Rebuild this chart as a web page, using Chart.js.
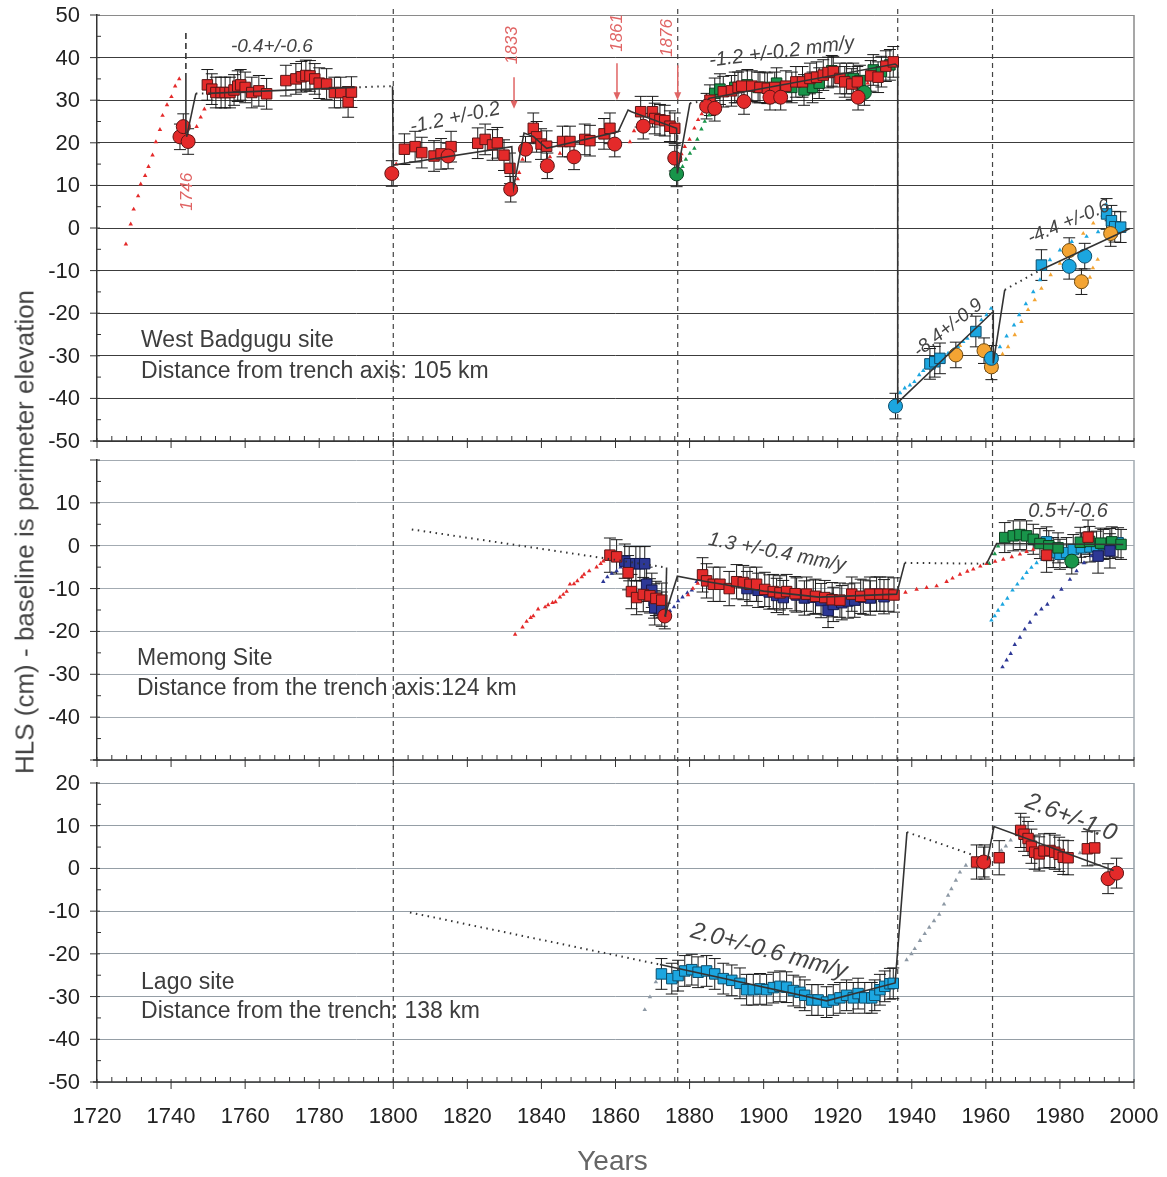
<!DOCTYPE html>
<html>
<head>
<meta charset="utf-8">
<script src="https://cdn.jsdelivr.net/npm/chart.js@4.4.1/dist/chart.umd.min.js"></script>
<style>
body{margin:0;background:#fff;}
#wrap{position:relative;width:1167px;height:1177px;font-family:"Liberation Sans",Arial,sans-serif;}
.panel{position:absolute;left:0;}
#ytitle{position:absolute;left:25px;top:532px;transform:translate(-50%,-50%) rotate(-90deg);white-space:nowrap;font-size:26px;color:#444;}
</style>
</head>
<body>
<div id="wrap">
  <canvas id="c1" class="panel" width="1167" height="451" style="top:0"></canvas>
  <canvas id="c2" class="panel" width="1167" height="320" style="top:451px"></canvas>
  <canvas id="c3" class="panel" width="1167" height="406" style="top:771px"></canvas>
  <div id="ytitle">HLS (cm) - baseline is perimeter elevation</div>
</div>
<script>
// ---- data: [year, HLS cm] ----
// West Badgugu
const wbRedSquares = [[1749.8,33.6],[1751.0,32.6],[1752.1,31.8],[1753.5,31.8],[1754.6,31.8],[1755.9,31.8],[1757.0,32.4],[1758.0,33.3],[1758.8,33.6],[1760.0,33.0],[1761.8,31.8],[1763.7,32.2],[1765.8,31.5],
  [1771.0,34.6],[1773.7,35.0],[1775.2,35.5],[1776.4,35.8],[1777.5,35.7],[1778.8,35.0],[1780.0,34.0],[1782.0,33.8],[1784.1,31.8],[1785.8,31.8],[1787.8,29.6],[1788.7,31.9],
  [1803.0,18.5],[1805.9,19.1],[1807.7,17.7],[1811.0,16.9],[1812.9,17.4],[1815.6,19.1],[1822.8,19.9],[1824.8,20.8],[1826.8,19.5],[1828.1,20.0],[1829.9,17.1],[1831.5,14.0],
  [1837.8,23.4],[1838.7,21.4],[1839.9,19.7],[1841.4,19.2],[1845.7,20.3],[1847.7,20.3],[1851.7,20.8],[1853.1,20.5],[1856.9,22.1],[1858.5,23.4],
  [1866.8,27.3],[1870.0,27.3],[1870.6,25.7],[1872.0,25.4],[1873.3,25.2],[1874.7,23.9],[1876.0,23.4],
  [1885.5,30.0],[1889.1,32.0],[1891.3,32.2],[1893.1,33.0],[1894.1,33.3],[1896.8,33.3],[1899.0,33.0],[1901.0,32.8],[1903.0,33.0],[1906.0,33.3],[1908.7,34.3],[1910.5,34.3],[1912.5,35.1],[1914.3,35.4],[1916.1,35.9],[1917.4,36.5],[1918.8,36.7],[1920.6,35.1],[1921.9,34.3],[1923.8,33.8],[1925.3,34.3],[1928.9,35.7],[1930.9,35.4],[1933.0,38.0],[1935.0,39.0]];
const wbGreenSquares = [[1886.8,31.6],[1888.2,32.6],[1892.2,33.0],[1895.6,33.6],[1898.5,33.0],[1900.3,33.0],[1903.5,34.0],[1907.6,33.0],[1910.9,32.4],[1913.2,33.0],[1915.0,34.0],[1918.4,36.9],[1922.4,35.1],[1924.2,35.1],[1926.0,34.6],[1929.6,37.1],[1931.8,36.7],[1934.1,38.3]];
const wbRedCircles = [[1742.4,21.4],[1743.3,23.8],[1744.6,20.3],[1799.6,12.8],[1814.8,16.9],[1831.7,9.1],[1835.7,18.5],[1841.6,14.6],[1848.8,16.7],[1859.8,19.7],[1867.5,23.9],[1876.0,16.4],[1884.6,28.6],[1886.8,28.1],[1894.7,29.7],[1901.7,30.7],[1904.6,30.7],[1925.5,30.7]];
const wbGreenCircles = [[1876.5,12.7],[1927.2,31.8]];
const wbCyanCircles = [[1935.6,-41.8],[1961.5,-30.6],[1982.5,-9.0],[1986.7,-6.6]];
const wbCyanSquares = [[1944.9,-31.9],[1946.2,-31.4],[1947.6,-30.6],[1957.3,-24.3],[1975.0,-8.7],[1992.6,3.3],[1993.9,1.7],[1994.8,0.3],[1996.4,0.2]];
const wbOrangeCircles = [[1951.9,-29.8],[1959.5,-28.8],[1961.5,-32.6],[1982.5,-5.3],[1985.8,-12.6],[1993.7,-1.3]];
const wbRedTri = [[1727.8,-3.8],[1729.1,0.9],[1729.9,4.4],[1731.1,7.5],[1731.8,10.3],[1733.0,12.3],[1733.9,14.4],[1735.0,17.1],[1735.9,20.2],[1737.0,23.1],[1737.7,26.4],[1738.9,28.9],[1740.1,30.8],[1741.1,33.3],[1742.2,35.0],
  [1745.8,21.1],[1746.9,23.8],[1748.0,26.0],[1749.0,27.9],[1800.8,15.0],[1833.6,11.5],[1834.0,13.0],[1834.9,16.1],[1842.3,16.7],[1845.0,17.5],[1863.9,20.2],[1865.0,22.8],
  [1877.8,17.4],[1878.7,19.1],[1880.0,20.8],[1881.3,23.4],[1882.3,25.4],[1883.3,26.8],[1927.3,33.2],[1928.1,34.0]];
const wbGreenTri = [[1878.1,14.4],[1879.0,16.1],[1880.1,17.5],[1881.3,18.7],[1882.1,20.8],[1883.2,23.2],[1884.1,25.0],[1885.3,26.5],[1928.4,32.4]];
const wbCyanTri = [[1936.8,-38.7],[1938.1,-37.6],[1939.5,-36.9],[1940.7,-36.1],[1942.0,-34.5],[1943.1,-33.5],[1949.8,-29.4],[1951.2,-28.6],[1952.5,-27.9],[1953.9,-26.7],[1955.0,-25.9],[1956.2,-24.7],[1958.8,-21.6],[1960.2,-20.4],[1961.4,-18.9],
  [1963.8,-27.9],[1965.6,-25.4],[1967.6,-22.8],[1969.0,-20.4],[1970.8,-17.8],[1972.8,-15.0],[1974.6,-12.2],[1977.3,-7.5],[1980.0,-5.2],[1983.2,-3.2],[1987.2,-2.0],[1990.3,-0.9],[1991.5,3.0],[1992.5,5.5]];
const wbOrangeTri = [[1950.3,-29.6],[1951.6,-28.8],[1953.0,-27.6],[1964.5,-29.6],[1966.0,-27.9],[1967.8,-25.1],[1969.6,-22.0],[1971.4,-19.2],[1973.2,-16.9],[1975.0,-14.2],[1977.5,-11.0],[1980.0,-8.3],[1983.6,-4.4],[1986.3,-1.3],[1989.0,1.1],[1988.1,-11.6],[1988.9,-9.4],[1990.2,-7.4]];
const wbFitSolid = [[[1744.0,35.9],[1744.0,22.1]], [[1744.2,21.4],[1746.7,31.6]], [[1750.1,31.6],[1789.2,33.0]],
  [[1799.8,33.3],[1800.0,14.8],[1832.0,19.1],[1832.5,9.6],[1835.3,22.3],[1837.8,21.5],[1841.4,18.7],[1860.7,22.6],[1863.4,27.7],[1864.3,27.3],[1876.5,23.4],[1876.7,12.8],[1880.1,29.3]],
  [[1885.0,30.4],[1935.5,38.5],[1936.2,38.0],[1936.2,-41.0],[1962.0,-19.6],[1962.0,-31.8],[1965.1,-14.5]], [[1974.6,-9.9],[1998.9,-0.1]]];
const wbFitDotted = [[[1746.7,31.6],[1750.1,31.6]], [[1789.2,33.0],[1799.6,33.3]], [[1880.1,29.3],[1885.0,30.0]], [[1965.1,-14.5],[1974.6,-9.9]]];
const wbFitDashed = [[[1744.0,45.8],[1744.0,35.9]]];

// Memong
const memRedSquares = [[1858.5,-2.2],[1860.3,-2.6],[1863.4,-6.3],[1864.3,-10.7],[1865.7,-12.1],[1867.5,-11.4],[1869.3,-11.7],[1870.9,-12.3],[1872.5,-12.7],
  [1883.5,-6.8],[1884.6,-8.2],[1886.4,-9.0],[1888.2,-9.0],[1890.7,-10.0],[1892.7,-8.4],[1894.5,-8.6],[1896.3,-9.0],[1898.1,-9.0],[1900.3,-10.2],[1902.6,-10.7],[1904.4,-11.0],[1906.2,-10.7],[1908.5,-11.2],[1911.6,-11.3],[1914.0,-11.8],[1916.5,-12.1],[1918.5,-12.6],[1920.6,-12.7],[1923.8,-11.3],[1926.2,-11.8],[1928.7,-11.3],[1931.4,-11.3],[1933.6,-11.3],[1935.2,-11.5],
  [1976.4,-2.2],[1987.6,2.0]];
const memNavySquares = [[1862.5,-3.6],[1863.7,-4.2],[1865.5,-4.2],[1866.6,-4.2],[1867.9,-4.2],[1868.4,-9.0],[1869.8,-10.4],[1870.4,-12.9],[1870.6,-14.5],[1872.5,-14.8],
  [1895.5,-10.0],[1898.5,-10.4],[1901.5,-10.8],[1903.5,-11.6],[1905.3,-12.1],[1908.9,-11.5],[1911.0,-12.2],[1913.4,-12.0],[1915.5,-12.8],[1917.4,-15.1],[1918.8,-13.7],[1921.1,-13.3],[1922.8,-12.9],[1924.6,-12.7],[1926.9,-12.0],[1928.8,-12.2],[1930.5,-11.3],[1932.5,-11.9],
  [1990.3,-2.4],[1993.5,-1.2]];
const memRedCircles = [[1873.3,-16.4]];
const memGreenSquares = [[1965.1,1.9],[1967.4,2.3],[1969.2,2.6],[1971.0,2.3],[1972.8,1.5],[1974.6,0.5],[1977.0,0.0],[1979.5,-0.5],[1985.5,0.8],[1988.0,1.0],[1991.0,0.6],[1994.0,0.9],[1996.5,0.3]];
const memGreenCircles = [[1983.2,-3.6]];
const memCyanSquares = [[1976.4,0.9],[1978.2,-1.6],[1980.0,-2.0],[1981.8,-1.6],[1983.6,-0.9],[1985.8,-0.5],[1988.1,-0.3],[1989.9,-0.1],[1991.7,0.3],[1993.5,0.5],[1995.7,0.7]];
const memRedTri = [[1832.9,-20.7],[1834.9,-19.0],[1836.0,-17.7],[1837.1,-16.8],[1837.8,-16.4],[1839.1,-14.8],[1841.0,-14.3],[1841.8,-13.8],[1843.0,-13.3],[1843.8,-13.1],[1845.0,-12.0],[1845.9,-11.4],[1846.8,-10.7],[1847.7,-9.0],[1848.8,-8.9],[1849.7,-8.2],[1850.9,-7.3],[1851.5,-6.7],[1852.9,-5.9],[1854.9,-5.0],[1856.0,-4.2],[1856.7,-3.6],[1857.6,-3.2],
  [1879.6,-11.5],[1880.9,-10.0],[1882.2,-8.8],
  [1936.0,-11.3],[1938.3,-10.9],[1941.3,-10.2],[1944.0,-9.8],[1946.7,-9.4],[1949.4,-8.4],[1951.0,-7.6],[1953.0,-6.7],[1955.0,-6.0],[1956.6,-5.5],[1958.5,-4.8],[1960.2,-4.2],[1962.5,-3.7],[1964.7,-3.2],[1967.0,-2.6],[1969.2,-2.0],[1971.0,-1.4],[1972.8,-0.9]];
const memNavyTri = [[1856.7,-8.4],[1857.8,-7.3],[1859.0,-6.5],[1860.3,-5.9],[1861.4,-5.0],
  [1874.7,-15.2],[1875.8,-14.3],[1876.9,-12.9],[1878.1,-12.0],[1879.4,-11.0],[1880.6,-10.4],[1881.9,-8.4],
  [1964.5,-28.3],[1965.6,-26.7],[1966.7,-25.2],[1967.8,-23.1],[1969.2,-21.4],[1970.5,-19.5],[1971.9,-17.9],[1973.5,-16.0],[1975.0,-14.8],[1976.6,-13.7],[1978.2,-12.0],[1980.4,-10.2],[1982.7,-7.9],[1984.5,-5.9],[1986.5,-4.0],[1988.5,-2.4]];
const memCyanTri = [[1961.5,-17.4],[1962.4,-16.4],[1963.3,-15.1],[1964.5,-13.7],[1965.8,-12.3],[1967.2,-10.4],[1968.5,-9.0],[1969.9,-7.6],[1971.0,-6.3],[1972.3,-5.1],[1973.7,-4.0],[1975.1,-3.2]];
const memGreenTri = [[1960.9,-4.2],[1962.4,-1.9],[1963.3,-0.1]];
const memFitSolid = [[[1873.8,-5.1],[1873.5,-16.6]], [[1873.3,-16.5],[1876.7,-7.1],[1882.8,-8.1],[1900.0,-10.6],[1915.0,-12.0],[1935.9,-11.3],[1938.1,-4.0]], [[1960.2,-4.2],[1962.9,0.5],[1997.1,0.3]]];
const memFitDotted = [[[1805.0,3.8],[1873.8,-5.1]], [[1938.1,-4.0],[1960.2,-4.2]]];

// Lago
const lagoCyanSquares = [[1872.4,-24.7],[1875.2,-25.8],[1876.9,-25.1],[1878.7,-24.0],[1880.6,-23.7],[1882.3,-24.3],[1884.6,-24.0],[1886.8,-24.7],[1889.1,-25.8],[1891.4,-26.2],[1893.6,-26.9],[1895.4,-28.4],[1897.2,-28.4],[1899.0,-28.2],[1900.8,-28.4],[1902.6,-27.9],[1904.4,-27.6],[1906.2,-27.8],[1908.0,-28.6],[1909.8,-29.0],[1911.1,-29.7],[1913.0,-30.8],[1914.7,-30.8],[1917.0,-31.3],[1918.8,-30.8],[1920.6,-30.3],[1922.4,-29.7],[1924.2,-30.3],[1925.5,-29.3],[1927.3,-30.3],[1929.2,-30.3],[1930.0,-29.7],[1931.4,-28.4],[1932.7,-27.6],[1934.1,-27.0],[1935.0,-26.9]];
const lagoRedSquares = [[1957.5,1.5],[1959.7,1.5],[1963.6,2.5],[1969.4,8.9],[1970.3,8.0],[1971.4,7.0],[1972.3,5.2],[1973.2,3.8],[1974.4,3.4],[1975.7,4.1],[1977.3,4.2],[1978.6,3.8],[1979.8,3.3],[1980.9,2.6],[1982.2,2.5],[1987.4,4.6],[1989.4,4.8]];
const lagoRedCircles = [[1959.4,1.5],[1993.0,-2.4],[1995.3,-1.1]];
const lagoGrayTri = [[1867.9,-33.1],[1869.3,-30.1],[1870.9,-26.6],[1938.6,-21.4],[1939.9,-20.0],[1940.8,-18.8],[1942.2,-16.9],[1943.5,-15.3],[1944.7,-13.8],[1946.0,-12.3],[1947.4,-10.8],[1948.7,-8.4],[1949.8,-6.3],[1950.7,-4.8],[1951.9,-2.8],[1953.0,-0.9],[1954.6,0.7],[1964.2,4.2],[1965.4,5.2],[1966.7,6.6],[1985.4,3.6],[1986.4,4.6]];
const lagoFitSolid = [[[1872.0,-22.5],[1917.0,-31.0],[1935.5,-26.8],[1938.7,8.5]], [[1960.4,1.9],[1962.2,9.8],[1994.5,-0.5]]];
const lagoFitDotted = [[[1804.5,-10.3],[1872.0,-22.5]], [[1938.7,8.5],[1957.0,3.0]]];

// earthquake years marked by dashed lines
const eventYears = [1800, 1876.8, 1936.2, 1961.8];
const xTickYears = [1720, 1740, 1760, 1780, 1800, 1820, 1840, 1860, 1880, 1900, 1920, 1940, 1960, 1980, 2000];

// ---- styling ----
const FONT = '"Liberation Sans", Arial, sans-serif';
Chart.defaults.font.family = FONT;
const RED = '#e42a2a', REDE = '#5a1515';
const GREEN = '#18954a', GREENE = '#0b4020';
const CYAN = '#1ca6e0', CYANE = '#0d4d6b';
const ORANGE = '#f3a433', ORANGEE = '#6e4a10';
const NAVY = '#2d3896', NAVYE = '#141a50';
const GRAYT = '#8c98a4';
const SALMON = '#e06464';

const pts = a => a.map(p => ({x: p[0], y: p[1]}));
function tri(d, c) {
  return {data: pts(d), pointStyle: 'triangle', pointRadius: 2.6, backgroundColor: c, borderWidth: 0, order: 3};
}
function sq(d, c, e, err) {
  return {data: pts(d), pointStyle: 'rect', pointRadius: 7.4, backgroundColor: c, borderColor: e, borderWidth: 1, err: err, order: 2};
}
function circ(d, c, e, err) {
  return {data: pts(d), pointStyle: 'circle', pointRadius: 7, backgroundColor: c, borderColor: e, borderWidth: 1, err: err, order: 2};
}
function fit(segs, kind) {
  return segs.map(s => ({
    data: pts(s), showLine: true, pointRadius: 0, borderColor: '#333',
    borderWidth: kind === 'dot' ? 2 : 1.6,
    borderDash: kind === 'dot' ? [1.5, 4.5] : (kind === 'dash' ? [6, 4] : []),
    order: 1
  }));
}

// error bars under the markers
const errorBars = {
  id: 'errorBars',
  beforeDatasetsDraw(chart) {
    const ctx = chart.ctx, ys = chart.scales.y;
    chart.data.datasets.forEach((ds, i) => {
      if (!ds.err) return;
      const meta = chart.getDatasetMeta(i);
      ctx.save();
      ctx.strokeStyle = '#1a1a1a';
      ctx.lineWidth = 1;
      meta.data.forEach((pt, j) => {
        const v = ds.data[j].y;
        const t = ys.getPixelForValue(v + ds.err), b = ys.getPixelForValue(v - ds.err);
        ctx.beginPath();
        ctx.moveTo(pt.x, t); ctx.lineTo(pt.x, b);
        ctx.moveTo(pt.x - 6, t); ctx.lineTo(pt.x + 6, t);
        ctx.moveTo(pt.x - 6, b); ctx.lineTo(pt.x + 6, b);
        ctx.stroke();
      });
      ctx.restore();
    });
  }
};

function eventLines(mode) {
  return {
    id: 'eventLines',
    beforeDatasetsDraw(chart) {
      const ctx = chart.ctx, xs = chart.scales.x, a = chart.chartArea;
      const y0 = mode === 'top' ? a.top - 6 : 0;
      const y1 = mode === 'bottom' ? a.bottom : chart.height;
      ctx.save();
      ctx.strokeStyle = '#444';
      ctx.lineWidth = 1.2;
      ctx.setLineDash([5, 4]);
      eventYears.forEach(yr => {
        const x = xs.getPixelForValue(yr);
        ctx.beginPath(); ctx.moveTo(x, y0); ctx.lineTo(x, y1); ctx.stroke();
      });
      ctx.restore();
    }
  };
}

// panel frame, tick marks and tick labels
function frame(o) {
  return {
    id: 'frame',
    afterDatasetsDraw(chart) {
      const ctx = chart.ctx, xs = chart.scales.x, ys = chart.scales.y, a = chart.chartArea;
      ctx.save();
      ctx.strokeStyle = o.edge; ctx.lineWidth = 1.5;
      ctx.beginPath(); ctx.moveTo(a.right, a.top); ctx.lineTo(a.right, a.bottom); ctx.stroke();
      ctx.strokeStyle = '#333'; ctx.lineWidth = 1.3;
      ctx.beginPath(); ctx.moveTo(a.left - 4, a.bottom); ctx.lineTo(a.right, a.bottom); ctx.stroke();
      ctx.lineWidth = 1;
      for (let yr = 1720; yr <= 2000; yr += 4) {
        const x = xs.getPixelForValue(yr);
        ctx.beginPath();
        if (xTickYears.includes(yr)) { ctx.moveTo(x, a.bottom - 3); ctx.lineTo(x, a.bottom + 7); }
        else { ctx.moveTo(x, a.bottom - 5); ctx.lineTo(x, a.bottom); }
        ctx.stroke();
      }
      ctx.fillStyle = '#222';
      ctx.font = '22px ' + FONT;
      ctx.textAlign = 'right';
      ctx.textBaseline = 'middle';
      for (let v = ys.min; v <= ys.max; v += 5) {
        const y = ys.getPixelForValue(v);
        ctx.beginPath();
        if (v % 10 === 0) { ctx.moveTo(a.left - 7, y); ctx.lineTo(a.left + 3, y); }
        else { ctx.moveTo(a.left, y); ctx.lineTo(a.left + 4, y); }
        ctx.stroke();
        if (v % 10 === 0 && !(o.hideY || []).includes(v)) ctx.fillText(String(v), a.left - 17, y + 1);
      }
      if (o.xLabels) {
        ctx.textAlign = 'center';
        xTickYears.forEach(yr => ctx.fillText(String(yr), xs.getPixelForValue(yr), a.bottom + 35));
        ctx.fillStyle = '#666';
        ctx.font = '28px ' + FONT;
        ctx.fillText('Years', (a.left + a.right) / 2 - 3, a.bottom + 80);
      }
      ctx.restore();
    }
  };
}

function notes(items, arrows) {
  return {
    id: 'notes',
    afterDatasetsDraw(chart) {
      const ctx = chart.ctx, xs = chart.scales.x, ys = chart.scales.y;
      items.forEach(n => {
        ctx.save();
        ctx.translate(xs.getPixelForValue(n.x), ys.getPixelForValue(n.y));
        ctx.rotate((n.rot || 0) * Math.PI / 180);
        ctx.font = (n.it ? 'italic ' : '') + n.size + 'px ' + FONT;
        ctx.fillStyle = n.c || '#333';
        ctx.textAlign = n.align || 'center';
        ctx.textBaseline = 'middle';
        ctx.fillText(n.t, 0, 0);
        ctx.restore();
      });
      (arrows || []).forEach(ar => {
        const x = xs.getPixelForValue(ar.x), y1 = ys.getPixelForValue(ar.y1), y2 = ys.getPixelForValue(ar.y2);
        ctx.save();
        ctx.strokeStyle = SALMON; ctx.fillStyle = SALMON; ctx.lineWidth = 1.5;
        ctx.beginPath(); ctx.moveTo(x, y1); ctx.lineTo(x, y2 - 6); ctx.stroke();
        ctx.beginPath(); ctx.moveTo(x - 3.5, y2 - 8); ctx.lineTo(x + 3.5, y2 - 8); ctx.lineTo(x, y2); ctx.closePath(); ctx.fill();
        ctx.restore();
      });
    }
  };
}

function panel(id, o) {
  return new Chart(document.getElementById(id), {
    type: 'scatter',
    data: {datasets: o.datasets},
    options: {
      responsive: false, animation: false, devicePixelRatio: 1,
      layout: {padding: {top: o.padTop, bottom: o.padBottom, left: 0, right: 33}},
      plugins: {legend: {display: false}, tooltip: {enabled: false}},
      scales: {
        x: {type: 'linear', min: 1720, max: 2000, display: false},
        y: {
          min: o.yMin, max: o.yMax,
          ticks: {stepSize: 10, display: false},
          grid: {drawTicks: false, lineWidth: 1, color: c => c.tick.value === o.yMax ? o.edge : o.grid},
          border: {display: true, color: '#333', width: 1.5},
          afterFit: s => { s.width = 97; }
        }
      }
    },
    plugins: [eventLines(o.lines), errorBars, frame(o), notes(o.notes, o.arrows)]
  });
}

// ---- West Badgugu ----
panel('c1', {
  yMin: -50, yMax: 50, padTop: 15, padBottom: 10, grid: '#3c3c3c', edge: '#8a8a8a', lines: 'top',
  datasets: [].concat(
    fit(wbFitSolid, 'solid'), fit(wbFitDotted, 'dot'), fit(wbFitDashed, 'dash'),
    [circ(wbRedCircles, RED, REDE, 3), circ(wbGreenCircles, GREEN, GREENE, 3),
     sq(wbRedSquares, RED, REDE, 3.6), sq(wbGreenSquares, GREEN, GREENE, 3.6),
     circ(wbCyanCircles, CYAN, CYANE, 3), circ(wbOrangeCircles, ORANGE, ORANGEE, 3), sq(wbCyanSquares, CYAN, CYANE, 3.6),
     tri(wbRedTri, RED), tri(wbGreenTri, GREEN), tri(wbCyanTri, CYAN), tri(wbOrangeTri, ORANGE)]),
  notes: [
    {t: '-0.4+/-0.6', x: 1767.2, y: 42.5, size: 19, it: true, c: '#444'},
    {t: '-1.2 +/-0.2', x: 1816.7, y: 25.8, rot: -12, size: 20, it: true, c: '#444'},
    {t: '1833', x: 1832.0, y: 42.9, rot: -90, size: 17, it: true, c: SALMON},
    {t: '1861', x: 1860.4, y: 45.8, rot: -90, size: 17, it: true, c: SALMON},
    {t: '1876', x: 1873.9, y: 44.6, rot: -90, size: 17, it: true, c: SALMON},
    {t: '1746', x: 1744.3, y: 8.5, rot: -90, size: 17, it: true, c: SALMON},
    {t: '-1.2 +/-0.2 mm/y', x: 1904.9, y: 41.3, rot: -7, size: 20, it: true, c: '#444'},
    {t: '-8.4+/-0.9', x: 1949.8, y: -23.5, rot: -38, size: 19, it: true, c: '#444'},
    {t: '-4.4 +/-0.6', x: 1982.4, y: 1.4, rot: -23, size: 19, it: true, c: '#444'},
    {t: 'West Badgugu site', x: 1731.9, y: -26.4, size: 23, align: 'left', c: '#3d3d3d'},
    {t: 'Distance from trench axis: 105 km', x: 1731.9, y: -33.7, size: 23, align: 'left', c: '#3d3d3d'}
  ],
  arrows: [{x: 1832.6, y1: 35.4, y2: 28.0}, {x: 1860.4, y1: 38.7, y2: 30.0}, {x: 1876.8, y1: 38.2, y2: 30.0}]
});

// ---- Memong ----
panel('c2', {
  yMin: -50, yMax: 20, padTop: 9, padBottom: 11, grid: '#a3abb2', edge: '#a3abb2', lines: 'mid', hideY: [20, -50],
  datasets: [].concat(
    fit(memFitSolid, 'solid'), fit(memFitDotted, 'dot'),
    [circ(memRedCircles, RED, REDE, 3), circ(memGreenCircles, GREEN, GREENE, 3),
     sq(memRedSquares, RED, REDE, 4), sq(memNavySquares, NAVY, NAVYE, 4),
     sq(memGreenSquares, GREEN, GREENE, 3.5), sq(memCyanSquares, CYAN, CYANE, 3.5),
     tri(memRedTri, RED), tri(memNavyTri, NAVY), tri(memCyanTri, CYAN), tri(memGreenTri, GREEN)]),
  notes: [
    {t: '1.3 +/-0.4 mm/y', x: 1903.6, y: -1.6, rot: 11, size: 20, it: true, c: '#444'},
    {t: '0.5+/-0.6', x: 1982.2, y: 7.9, size: 20, it: true, c: '#444'},
    {t: 'Memong Site', x: 1730.8, y: -26.3, size: 23, align: 'left', c: '#3d3d3d'},
    {t: 'Distance from the trench axis:124 km', x: 1730.8, y: -33.4, size: 23, align: 'left', c: '#3d3d3d'}
  ]
});

// ---- Lago ----
panel('c3', {
  yMin: -50, yMax: 20, padTop: 12, padBottom: 95, grid: '#959ea6', edge: '#959ea6', lines: 'bottom', xLabels: true,
  datasets: [].concat(
    fit(lagoFitSolid, 'solid'), fit(lagoFitDotted, 'dot'),
    [circ(lagoRedCircles, RED, REDE, 3.5), sq(lagoRedSquares, RED, REDE, 4), sq(lagoCyanSquares, CYAN, CYANE, 3.6),
     tri(lagoGrayTri, GRAYT)]),
  notes: [
    {t: '2.0+/-0.6 mm/y', x: 1901.4, y: -19.4, rot: 15, size: 24, it: true, c: '#444'},
    {t: '2.6+/-1.0', x: 1983.0, y: 11.9, rot: 21, size: 24, it: true, c: '#444'},
    {t: 'Lago site', x: 1731.9, y: -26.7, size: 23, align: 'left', c: '#3d3d3d'},
    {t: 'Distance from the trench: 138 km', x: 1731.9, y: -33.6, size: 23, align: 'left', c: '#3d3d3d'}
  ]
});
</script>
</body>
</html>
